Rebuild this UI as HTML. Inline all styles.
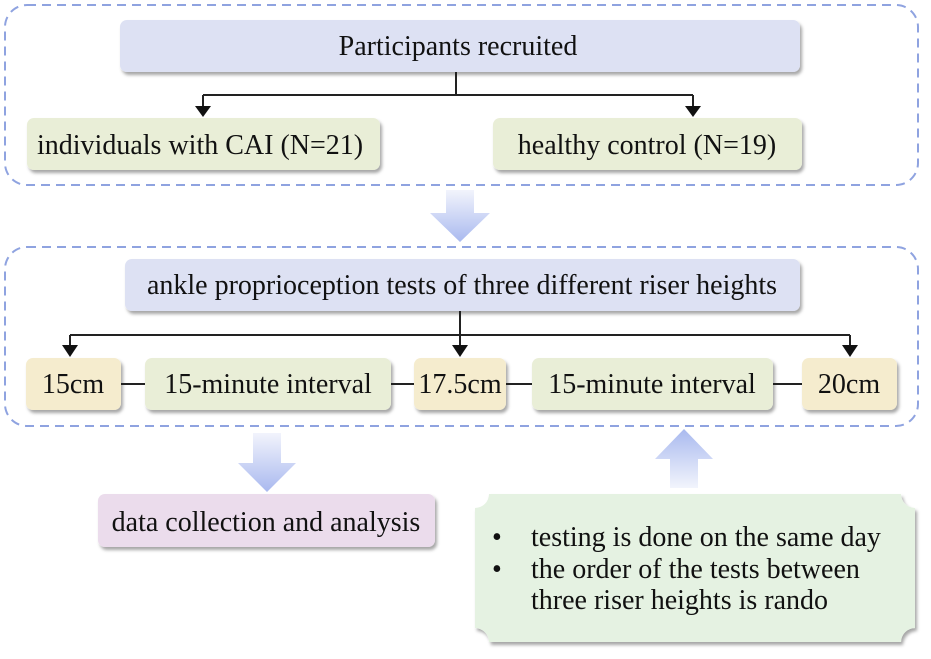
<!DOCTYPE html>
<html><head><meta charset="utf-8"><style>
html,body{margin:0;padding:0;background:#fff}
</style></head><body>
<svg width="931" height="654" viewBox="0 0 931 654" xmlns="http://www.w3.org/2000/svg">
<defs>
<linearGradient id="gd" x1="0" y1="0" x2="0" y2="1"><stop offset="0" stop-color="#f2f4fc"/><stop offset="1" stop-color="#a9b9ef"/></linearGradient>
<linearGradient id="gu" x1="0" y1="1" x2="0" y2="0"><stop offset="0" stop-color="#f2f4fc"/><stop offset="1" stop-color="#a9b9ef"/></linearGradient>
<filter id="sh" x="-10%" y="-20%" width="120%" height="150%"><feDropShadow dx="2" dy="3" stdDeviation="1.5" flood-color="#000" flood-opacity="0.35"/></filter>
</defs>
<rect x="5" y="5" width="913" height="180" rx="22" fill="none" stroke="#8fa3e0" stroke-width="2" stroke-dasharray="9,6"/>
<rect x="5" y="247" width="913" height="179" rx="22" fill="none" stroke="#8fa3e0" stroke-width="2" stroke-dasharray="9,6"/>

<g filter="url(#sh)">
<rect x="120" y="20" width="680" height="52" rx="7" fill="#dde1f3"/>
<rect x="27" y="118" width="353" height="52" rx="7" fill="#e9eed7"/>
<rect x="493" y="118" width="309" height="52" rx="7" fill="#e9eed7"/>
<rect x="125" y="259" width="675" height="52" rx="7" fill="#dde1f3"/>
<rect x="26" y="358" width="95" height="52" rx="7" fill="#f5ecce"/>
<rect x="145" y="358" width="246" height="52" rx="7" fill="#e9eed7"/>
<rect x="414" y="358" width="92" height="52" rx="7" fill="#f5ecce"/>
<rect x="532" y="358" width="241" height="52" rx="7" fill="#e9eed7"/>
<rect x="802" y="358" width="95" height="52" rx="7" fill="#f5ecce"/>
<rect x="98" y="494" width="337" height="53" rx="7" fill="#ebdcec"/>
<path d="M489,494 H901 A14,14 0 0 0 915,508 V628 A14,14 0 0 0 901,642 H489 A14,14 0 0 0 475,628 V508 A14,14 0 0 0 489,494 Z" fill="#e5f2e2"/>
</g>

<g stroke="#222" stroke-width="2" fill="none">
<path d="M456,72 V95 M203,95 H693 M203,95 V108 M693,95 V108"/>
<path d="M460,311 V335 M70,335 H850 M70,335 V346 M850,335 V346 M460,335 V346"/>
<path d="M121,384 H145 M391,384 H414 M506,384 H532 M773,384 H802"/>
</g>
<g fill="#111">
<path d="M195,106 H211 L203,117 Z"/><path d="M685,106 H701 L693,117 Z"/>
<path d="M62,345 H78 L70,357 Z"/><path d="M452,345 H468 L460,357 Z"/><path d="M842,345 H858 L850,357 Z"/>
</g>

<path d="M446,190 H474 V213 H490 L460,242 L430,213 H446 Z" fill="url(#gd)"/>
<path d="M253,433 H281 V463 H296 L267,492 L238,463 H253 Z" fill="url(#gd)"/>
<path d="M670,488 H698 V459 H713 L684,429 L655,459 H670 Z" fill="url(#gu)"/>

<g font-family="Liberation Serif, serif" font-size="28" fill="#111">
<text x="458" y="55" text-anchor="middle">Participants recruited</text>
<text x="37" y="154">individuals with CAI  (N=21)</text>
<text x="647" y="154" text-anchor="middle">healthy control (N=19)</text>
<text x="462" y="294" text-anchor="middle">ankle proprioception tests of three different riser heights</text>
<text x="73" y="393" text-anchor="middle">15cm</text>
<text x="268" y="393" text-anchor="middle">15-minute interval</text>
<text x="460" y="393" text-anchor="middle">17.5cm</text>
<text x="652" y="393" text-anchor="middle">15-minute interval</text>
<text x="849" y="393" text-anchor="middle">20cm</text>
<text x="266" y="531" text-anchor="middle">data collection and analysis</text>
<text x="492" y="546">•</text><text x="531" y="546">testing is done on the same day</text>
<text x="492" y="578">•</text><text x="531" y="578">the order of the tests between</text>
<text x="531" y="609">three riser heights is rando</text>
</g>
</svg>
</body></html>
